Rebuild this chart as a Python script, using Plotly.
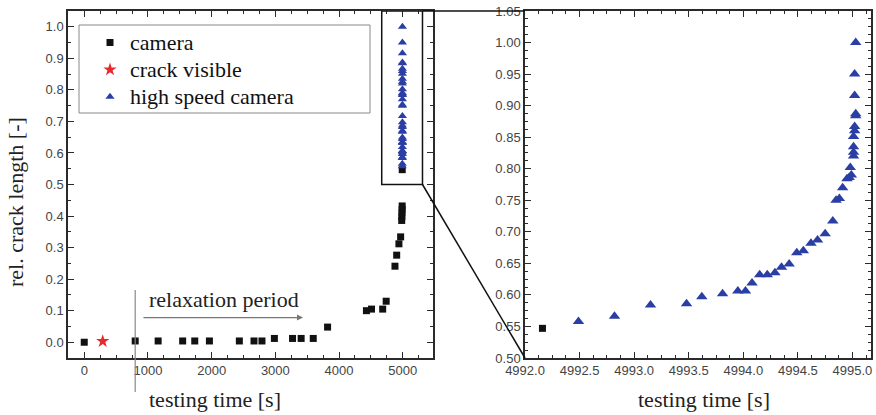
import plotly.graph_objects as go

# ---------------- data ----------------
cam_t = [0, 800, 1160, 1545, 1735, 1965, 2435, 2665, 2790, 2985, 3270, 3405, 3595,
         3820, 4430, 4510, 4685, 4740, 4878, 4905, 4940, 4967, 4984, 4986, 4988,
         4990, 4991, 4992.16]
cam_y = [0.0, 0.004, 0.004, 0.004, 0.004, 0.004, 0.004, 0.004, 0.004, 0.012, 0.012,
         0.012, 0.012, 0.048, 0.100, 0.105, 0.105, 0.130, 0.241, 0.276, 0.312, 0.334,
         0.386, 0.398, 0.410, 0.421, 0.432, 0.547]

crack_t = [290]
crack_y = [0.003]

hs_t = [4992.49, 4992.82, 4993.15, 4993.48, 4993.62, 4993.81, 4993.95, 4994.02,
        4994.08, 4994.15, 4994.22, 4994.29, 4994.35, 4994.42, 4994.49, 4994.55,
        4994.62, 4994.68, 4994.75, 4994.82, 4994.85, 4994.88, 4994.91, 4994.95,
        4994.97, 4994.99, 4994.98, 4995.01, 4995.01, 4995.01, 4995.01, 4995.02,
        4995.02, 4995.03, 4995.03, 4995.02, 4995.02, 4995.03]
hs_y = [0.558, 0.566, 0.584, 0.586, 0.597, 0.602, 0.606, 0.606, 0.619, 0.632,
        0.632, 0.635, 0.644, 0.649, 0.667, 0.670, 0.682, 0.687, 0.697, 0.717,
        0.750, 0.753, 0.770, 0.784, 0.786, 0.790, 0.802, 0.820, 0.826, 0.835,
        0.851, 0.860, 0.867, 0.884, 0.887, 0.916, 0.950, 1.000]

zoom_t = [4992.16]
zoom_y = [0.547]

legend_names = ["camera", "crack visible", "high speed camera"]

# inset window (data coords of left panel)
win_t = [4670, 5310]
win_y = [0.50, 1.05]

relax_start = 800
relax_arrow = [906, 3434]

# ---------------- layout geometry ----------------
W, H = 876, 415
L_dom = [68 / W, 433 / W]
R_dom = [525 / W, 871 / W]
Y_dom = [1 - 358 / H, 1 - 11 / H]
L_xr = [-255, 5475]
L_yr = [-0.05, 1.05]
R_xr = [4992.0, 4995.17]
R_yr = [0.50, 1.05]

BLUE = "#2b3ea3"
AX = "#2a2a2a"
TICKF = dict(family="Liberation Sans", size=13, color="#444")
SERIF = "Liberation Serif"


def leg(name):
    return '<span style="font-size:22px">' + name + '</span>'


fig = go.Figure()

fig.add_trace(go.Scatter(x=cam_t, y=cam_y, mode="markers", name=leg(legend_names[0]),
                         marker=dict(symbol="square", size=7, color="#111"),
                         xaxis="x", yaxis="y"))
fig.add_trace(go.Scatter(x=crack_t, y=crack_y, mode="markers", name=leg(legend_names[1]),
                         marker=dict(symbol="star", size=10, color="#e8282d"),
                         xaxis="x", yaxis="y"))
fig.add_trace(go.Scatter(x=hs_t, y=hs_y, mode="markers", name=leg(legend_names[2]),
                         marker=dict(symbol="triangle-up", size=8, color=BLUE),
                         xaxis="x", yaxis="y"))
fig.add_trace(go.Scatter(x=zoom_t, y=zoom_y, mode="markers", showlegend=False,
                         marker=dict(symbol="square", size=7, color="#111"),
                         xaxis="x2", yaxis="y2"))
fig.add_trace(go.Scatter(x=hs_t, y=hs_y, mode="markers", showlegend=False,
                         marker=dict(symbol="triangle-up", size=10, color=BLUE),
                         xaxis="x2", yaxis="y2"))

axis_common = dict(showline=True, linecolor=AX, linewidth=1.5, mirror="ticks",
                   ticks="inside", ticklen=6, tickwidth=1.2, tickcolor=AX,
                   showgrid=False, zeroline=False, tickfont=TICKF, automargin=False)

fig.update_layout(
    width=W, height=H, margin=dict(l=0, r=0, t=0, b=0),
    template="none", paper_bgcolor="white", plot_bgcolor="white",
    xaxis=dict(domain=L_dom, range=L_xr, anchor="y", tick0=0, dtick=1000,
               minor=dict(dtick=250, ticks="inside", ticklen=3, tickcolor=AX),
               **axis_common),
    yaxis=dict(domain=Y_dom, range=L_yr, anchor="x", tick0=0, dtick=0.1, tickformat=".1f",
               minor=dict(dtick=0.05, ticks="inside", ticklen=3, tickcolor=AX),
               **axis_common),
    xaxis2=dict(domain=R_dom, range=R_xr, anchor="y2", tick0=4992, dtick=0.5,
                tickformat=".1f",
                minor=dict(dtick=0.125, ticks="inside", ticklen=3, tickcolor=AX),
                **axis_common),
    yaxis2=dict(domain=Y_dom, range=R_yr, anchor="x2", tick0=0.5, dtick=0.05,
                tickformat=".2f",
                minor=dict(dtick=0.0125, ticks="inside", ticklen=3, tickcolor=AX),
                **axis_common),
    legend=dict(x=90 / W, y=1 - 24 / H, xanchor="left", yanchor="top",
                bgcolor="rgba(0,0,0,0)", borderwidth=0,
                font=dict(family=SERIF, size=18.5, color="#111")),
    showlegend=True,
)


def frac(v, dom, rng):
    return dom[0] + (v - rng[0]) / (rng[1] - rng[0]) * (dom[1] - dom[0])


shapes = []
# legend box
shapes.append(dict(type="rect", xref="paper", yref="paper",
                   x0=79 / W, x1=370 / W, y0=1 - 113 / H, y1=1 - 25 / H,
                   line=dict(color="#888", width=1)))
# inset window
shapes.append(dict(type="rect", xref="x", yref="y",
                   x0=win_t[0], x1=win_t[1], y0=win_y[0], y1=win_y[1],
                   line=dict(color="#111", width=1.5)))
# connectors
shapes.append(dict(type="line", xref="paper", yref="paper",
                   x0=frac(win_t[1], L_dom, L_xr), y0=frac(win_y[0], Y_dom, L_yr),
                   x1=R_dom[0], y1=Y_dom[0], line=dict(color="#111", width=1.5)))
shapes.append(dict(type="line", xref="paper", yref="paper",
                   x0=frac(win_t[1], L_dom, L_xr), y0=frac(win_y[1], Y_dom, L_yr),
                   x1=R_dom[0], y1=Y_dom[1], line=dict(color="#111", width=1.5)))
# relaxation start line
shapes.append(dict(type="line", xref="x", yref="paper",
                   x0=relax_start, x1=relax_start, y0=1 - 392 / H, y1=1 - 290 / H,
                   line=dict(color="#888", width=1.2)))
fig.update_layout(shapes=shapes)

annotations = [
    dict(x=relax_arrow[1], y=0.078, ax=relax_arrow[0], ay=0.078, xref="x", yref="y",
         axref="x", ayref="y", text="", showarrow=True, arrowhead=2, arrowsize=1,
         arrowwidth=1.2, arrowcolor="#777"),
    dict(x=2190, y=0.136, xref="x", yref="y", text="relaxation period", showarrow=False,
         font=dict(family=SERIF, size=22, color="#222")),
    dict(x=215 / W, y=1 - 399 / H, xref="paper", yref="paper", text="testing time [s]",
         xanchor="center", yanchor="middle",
         showarrow=False, font=dict(family=SERIF, size=22, color="#222")),
    dict(x=704 / W, y=1 - 399 / H, xref="paper", yref="paper", text="testing time [s]",
         xanchor="center", yanchor="middle",
         showarrow=False, font=dict(family=SERIF, size=22, color="#222")),
    dict(x=16 / W, y=1 - 202 / H, xref="paper", yref="paper", text="rel. crack length [-]",
         xanchor="center", yanchor="middle",
         showarrow=False, textangle=-90, font=dict(family=SERIF, size=22, color="#222")),
]
fig.update_layout(annotations=annotations)

fig.write_html("out.html")
